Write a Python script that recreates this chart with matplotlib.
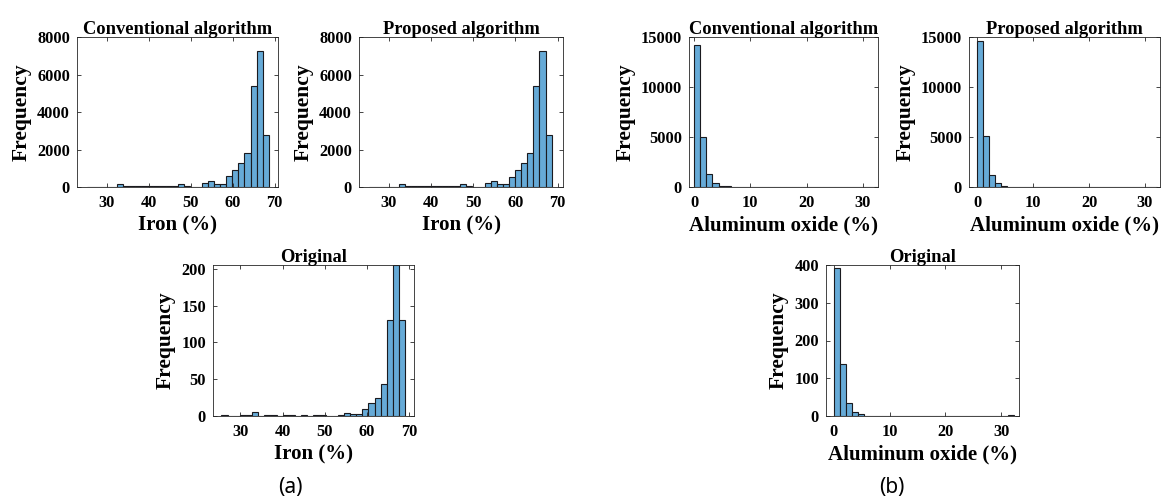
import numpy as np
import matplotlib
matplotlib.use("Agg")
import matplotlib.pyplot as plt

# --- data (bin edges + counts) ---
iron_edges_top = np.linspace(25.2, 68.6, 31)
iron_conv = [5, 0, 0, 5, 10, 150, 40, 40, 80, 40, 40, 60, 30, 80, 80, 160, 30, 0, 0,
             210, 320, 150, 150, 580, 900, 1270, 1805, 5400, 7255, 2780]
iron_prop = [5, 0, 0, 5, 15, 150, 40, 30, 80, 40, 50, 60, 30, 80, 80, 160, 30, 0, 0,
             200, 330, 150, 140, 560, 890, 1260, 1800, 5400, 7240, 2780]

iron_edges_orig = np.linspace(25.5, 69.0, 31)
iron_orig = [1, 0, 0, 1, 1, 5, 0, 1, 1, 0, 1, 1, 0, 2, 0, 1, 1, 0, 0,
             1, 4, 3, 3, 10, 17, 25, 43, 131, 205, 130]

al_edges_conv = np.linspace(0, 32.7, 31)
al_conv = [14170, 4980, 1290, 400, 130, 60, 50, 20, 10, 20, 30, 30, 20, 10, 30,
           20, 10, 40, 30, 10, 20, 10, 10, 20, 10, 5, 5, 5, 0, 5]
al_edges_prop = np.linspace(0, 32.2, 31)
al_prop = [14600, 5110, 1230, 430, 110, 50, 30, 20, 10, 20, 30, 20, 20, 10, 30,
           20, 10, 30, 20, 10, 20, 10, 10, 20, 10, 5, 5, 5, 0, 5]
al_edges_orig = np.linspace(0, 32.3, 31)
al_orig = [391, 137, 35, 11, 4, 1, 1, 0, 1, 1, 0, 1, 0, 1, 1, 0, 1, 1, 0, 1,
           1, 0, 1, 1, 0, 0, 1, 0, 0, 2]

iron_xticks = [30, 40, 50, 60, 70]
al_xticks = [0, 10, 20, 30]

plt.rcParams['font.family'] = ['Liberation Serif', 'DejaVu Serif']
plt.rcParams['font.weight'] = 'bold'

fig = plt.figure(figsize=(11.63, 5.0), dpi=100)
W, H = 1163.0, 500.0

def add_ax(x0, x1, y0, y1):
    return fig.add_axes([x0 / W, 1 - y1 / H, (x1 - x0) / W, (y1 - y0) / H])

face = (0.4, 0.668, 0.845)
edge = (0.1, 0.1, 0.12)

def hist_panel(ax, edges, counts, title, xlabel, xlim, xticks, ylim, yticks):
    edges = np.asarray(edges)
    ax.bar(edges[:-1], counts, width=np.diff(edges), align='edge',
           color=face, edgecolor=edge, linewidth=0.8)
    ax.set_xlim(*xlim)
    ax.set_ylim(*ylim)
    ax.set_xticks(xticks)
    ax.set_yticks(yticks)
    ax.set_title(title, fontsize=13.3, fontweight='bold', pad=2)
    ax.set_xlabel(xlabel, fontsize=15, fontweight='bold', labelpad=3)
    ax.set_ylabel('Frequency', fontsize=15.5, fontweight='bold', labelpad=4)
    ax.tick_params(direction='in', top=True, right=True, length=3, width=0.6,
                   labelsize=11.8, color=(0.15, 0.15, 0.15))
    ax.tick_params(axis='x', pad=6)
    ax.tick_params(axis='y', pad=5)
    for s in ax.spines.values():
        s.set_color((0.15, 0.15, 0.15))
        s.set_linewidth(0.6)
    for lab in ax.get_xticklabels() + ax.get_yticklabels():
        lab.set_fontweight('bold')

ax1 = add_ax(77, 278, 37, 187)
hist_panel(ax1, iron_edges_top, iron_conv, 'Conventional algorithm', 'Iron (%)',
           (22.9, 70.8), iron_xticks, (0, 8000), [0, 2000, 4000, 6000, 8000])

ax2 = add_ax(359, 563, 37, 187)
hist_panel(ax2, iron_edges_top, iron_prop, 'Proposed algorithm', 'Iron (%)',
           (22.9, 71.3), iron_xticks, (0, 8000), [0, 2000, 4000, 6000, 8000])

ax3 = add_ax(689, 878, 37, 187)
hist_panel(ax3, al_edges_conv, al_conv, 'Conventional algorithm', 'Aluminum oxide (%)',
           (-0.9, 32.7), al_xticks, (0, 15000), [0, 5000, 10000, 15000])

ax4 = add_ax(969, 1160, 37, 187)
hist_panel(ax4, al_edges_prop, al_prop, 'Proposed algorithm', 'Aluminum oxide (%)',
           (-1.5, 32.7), al_xticks, (0, 15000), [0, 5000, 10000, 15000])

ax5 = add_ax(213, 414, 265, 416)
hist_panel(ax5, iron_edges_orig, iron_orig, 'Original', 'Iron (%)',
           (23.5, 71.1), iron_xticks, (0, 205), [0, 50, 100, 150, 200])

ax6 = add_ax(826, 1019, 265, 416)
hist_panel(ax6, al_edges_orig, al_orig, 'Original', 'Aluminum oxide (%)',
           (-1.4, 33.2), al_xticks, (0, 400), [0, 100, 200, 300, 400])

fig.text(290 / W, 1 - 487 / H, '(a)', ha='center', va='center', fontsize=15,
         fontweight='normal', family=['Noto Sans', 'DejaVu Sans'])
fig.text(892 / W, 1 - 487 / H, '(b)', ha='center', va='center', fontsize=15,
         fontweight='normal', family=['Noto Sans', 'DejaVu Sans'])

fig.savefig('out.png', dpi=100)
